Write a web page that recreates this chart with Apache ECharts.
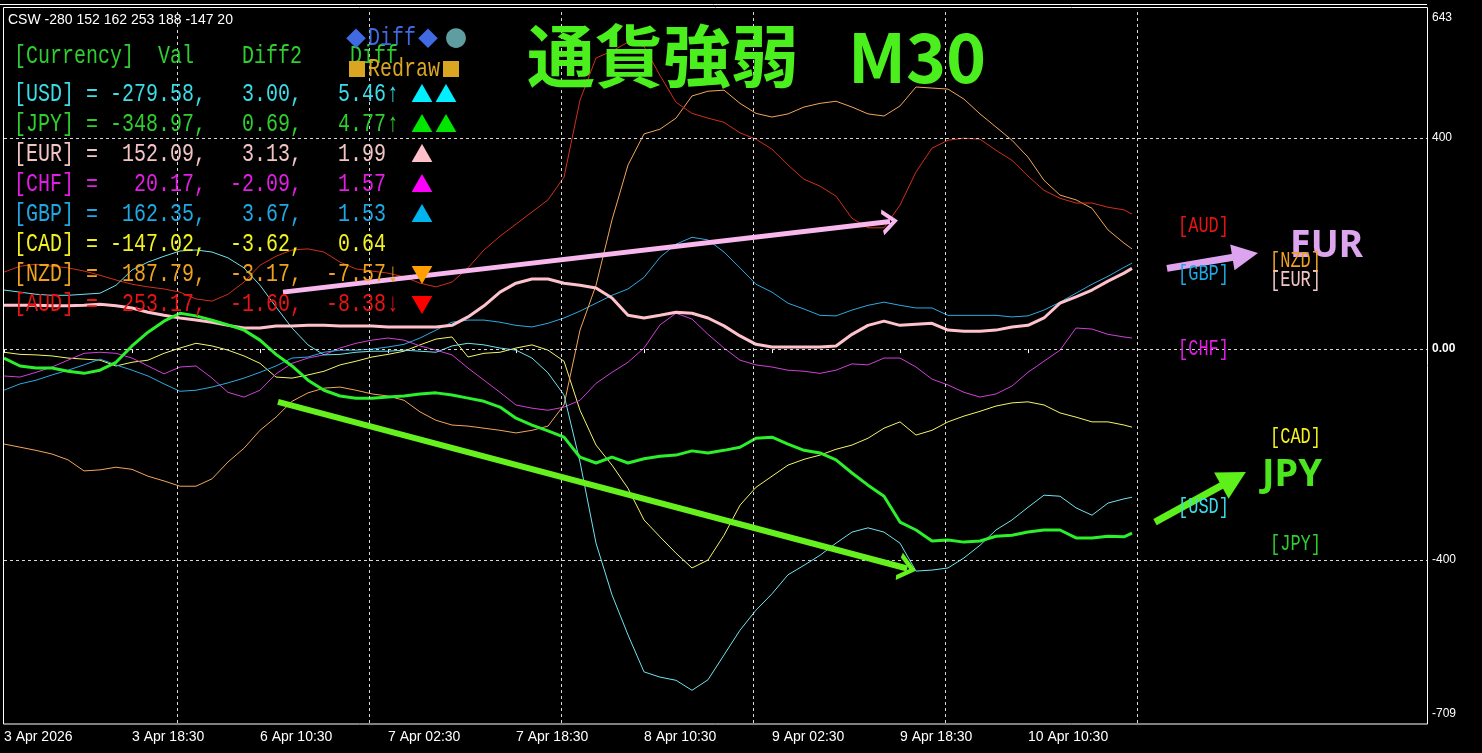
<!DOCTYPE html>
<html><head><meta charset="utf-8">
<script src="https://cdn.jsdelivr.net/npm/echarts@6/dist/echarts.min.js"></script>
<style>html,body{margin:0;padding:0;background:#000;}#c{width:1482px;height:753px;}</style>
</head><body><div id="c"></div>
<script>
// ---------- data ----------
const xLabels = ['3 Apr 2026','3 Apr 18:30','6 Apr 10:30','7 Apr 02:30','7 Apr 18:30','8 Apr 10:30','9 Apr 02:30','9 Apr 18:30','10 Apr 10:30'];
const barsPerLabel = 32;           // M30 bars between time labels
const sampleStep = 4;              // bars between samples
const lastBar = 282;
const yTickValues = [643, 400, 0, -400, -709];
const yTickLabels = ['643', '400', '0.00', '-400', '-709'];

const USD = [112,108,104,102,102,104,106,121,150,165,176,186,188,184,173,154,121,80,40,8,-11,-10,-6,-4,-4,-2,-4,-6,6,11,8,2,-2,-17,-45,-87,-214,-368,-466,-542,-612,-622,-628,-647,-627,-580,-533,-495,-464,-428,-410,-391,-368,-347,-339,-347,-368,-421,-419,-415,-396,-372,-343,-324,-300,-277,-279,-301,-315,-292,-284,-281];
const JPY = [-17,-32,-36,-36,-42,-46,-40,-25,6,32,53,68,63,55,46,36,17,-10,-32,-59,-78,-89,-93,-93,-91,-89,-85,-83,-87,-93,-99,-110,-131,-144,-155,-167,-205,-216,-205,-216,-208,-203,-201,-193,-197,-192,-186,-169,-167,-180,-192,-197,-210,-235,-258,-279,-328,-343,-364,-362,-366,-364,-355,-353,-347,-343,-343,-358,-358,-355,-356,-349];
const EUR = [83,83,83,82,82,83,85,82,78,70,64,59,55,51,45,40,40,44,44,45,45,44,44,44,42,42,42,42,45,61,82,108,125,133,133,125,121,116,97,64,59,64,70,68,59,44,25,9,4,4,4,4,6,28,45,53,45,47,49,36,34,34,36,42,45,59,87,99,112,129,144,153];
const CHF = [-51,-53,-44,-34,-21,-8,-6,-8,-17,-32,-47,-34,-32,-55,-82,-91,-78,-47,-27,-17,-11,2,11,17,21,17,6,-2,-11,-36,-59,-82,-106,-112,-116,-110,-97,-65,-44,-25,2,46,68,57,28,2,-21,-30,-34,-40,-42,-46,-40,-28,-30,-17,-17,-34,-57,-68,-82,-91,-85,-70,-44,-23,-2,40,38,28,23,21];
const GBP = [-78,-66,-59,-49,-40,-30,-19,-30,-40,-51,-66,-80,-78,-72,-64,-55,-44,-32,-17,-15,-6,-2,-2,0,4,9,21,36,51,55,55,51,45,42,49,59,72,87,102,114,136,174,199,212,207,184,154,123,108,87,76,64,63,74,83,89,83,78,78,64,64,64,64,61,63,74,89,106,123,138,155,163];
const CAD = [-6,-10,-11,-13,-17,-19,-21,-32,-25,-21,-8,2,11,6,-2,-13,-27,-53,-55,-49,-42,-30,-23,-15,-10,-4,8,19,23,-15,-8,-6,2,8,-2,-23,-116,-182,-220,-264,-324,-356,-387,-415,-400,-353,-296,-262,-241,-220,-209,-201,-190,-182,-169,-150,-138,-163,-154,-138,-127,-118,-108,-102,-100,-106,-121,-129,-138,-138,-144,-148];
const NZD = [-180,-186,-192,-199,-210,-231,-229,-224,-228,-241,-250,-260,-260,-246,-214,-188,-154,-129,-99,-83,-74,-72,-78,-85,-89,-97,-119,-135,-144,-146,-150,-154,-159,-154,-146,-106,36,121,245,349,408,417,438,480,489,491,466,447,440,446,459,466,470,459,446,442,461,497,495,493,474,446,421,396,364,320,292,283,267,226,201,190];
const AUD = [146,157,161,157,154,148,140,131,123,118,114,108,95,91,104,127,159,176,188,190,184,165,152,148,144,137,125,118,127,154,188,214,237,260,283,326,472,552,565,582,574,519,468,447,438,430,410,398,379,349,322,309,290,248,230,230,273,336,381,396,400,398,377,358,328,301,286,277,277,269,264,256];

// table (sorted by Diff)
const rowCur   = ['USD','JPY','EUR','CHF','GBP','CAD','NZD','AUD'];
const rowVal   = [-279.58,-348.97,152.09,20.17,162.35,-147.02,187.79,253.17];
const rowDiff2 = [3.00,0.69,3.13,-2.09,3.67,-3.62,-3.17,-1.60];
const rowDiff  = [5.46,4.77,1.99,1.57,1.53,0.64,-7.57,-8.38];
const rowArrow = ['↑','↑','','','','','↓','↓'];
const rowMarks = ['▲▲','▲▲','▲','▲','▲','','▼','▼'];
const cswText = 'CSW -280 152 162 253 188 -147 20';

// right-side currency tags
const tagLeft  = ['AUD','GBP','CHF','USD'];
const tagRight = ['NZD','EUR','CAD','JPY'];
const tagColBar = {left: 293.5, right: 316.5};

// annotation arrows (data coordinates: [bar, value])
const arrowLongPink  = [[69.75,108],[221.5,242]];
const arrowLongGreen = [[68.5,-100],[225.8,-416]];
const arrowShortPink = [[290.75,153],[310.3,178]];
const arrowShortGreen= [[287.75,-328],[307.4,-246]];

const vGridBars = [43.25,91.25,139.25,187.25,235.25,283.25];
const hGridVals = [400,0,-400];

// ---------- styles ----------
const lineColor = {USD:'#6FE3EF',JPY:'#2BF02B',EUR:'#FFC2CC',CHF:'#D040D8',GBP:'#2DA9E1',CAD:'#F5F56A',NZD:'#F2A65A',AUD:'#D0301A'};
const textColor = {USD:'#3CDCE8',JPY:'#2ECF2E',EUR:'#F2C4C4',CHF:'#E21EE2',GBP:'#1FA8E4',CAD:'#F2F21E',NZD:'#F0A21E',AUD:'#E81414'};
const markColor = {USD:'#00F0FF',JPY:'#00E600',EUR:'#FFC0CB',CHF:'#FF00FF',GBP:'#00B4F0',CAD:'#FFFF00',NZD:'#FFA000',AUD:'#FF0000'};
const seriesData = {USD,JPY,EUR,CHF,GBP,CAD,NZD,AUD};
const drawOrder = ['CAD','CHF','GBP','NZD','AUD','USD','EUR','JPY'];

const barIdx = USD.map((_, i) => Math.min(i * sampleStep, lastBar));
const tickBars = xLabels.map((_, i) => i * barsPerLabel);
const valueOf = {};
rowCur.forEach((c, i) => valueOf[c] = rowVal[i]);

const chevron = 'path://M0,20 L10,0 L20,20 L16.5,21 L10,8 L3.5,21 Z';

const series = drawOrder.map(cur => ({
  type: 'line', name: cur, showSymbol: false, symbol: 'none', smooth: false,
  animation: false, silent: true,
  lineStyle: {color: lineColor[cur], width: (cur === 'EUR' || cur === 'JPY') ? 3 : 1},
  data: seriesData[cur].map((v, i) => [barIdx[i], v])
}));

series[0].markLine = {
  silent: true, symbol: 'none', animation: false, label: {show: false},
  lineStyle: {color: '#d8d8d8', type: [3, 3], width: 1},
  data: vGridBars.map(x => ({xAxis: x})).concat(hGridVals.map(y => ({yAxis: y})))
};

function arrowPair(pts, color, width, sym, size) {
  return [
    {coord: pts[0], symbol: 'none', lineStyle: {color, width, type: 'solid'}},
    {coord: pts[1], symbol: sym, symbolSize: size, itemStyle: {color}}
  ];
}
series[series.length - 1].markLine = {
  silent: true, animation: false, label: {show: false},
  data: [
    arrowPair(arrowLongPink, '#F8B8EE', 5, chevron, [26, 16]),
    arrowPair(arrowLongGreen, '#66F01E', 6, chevron, [28, 18]),
    arrowPair(arrowShortPink, '#DDA3EE', 7, 'triangle', [26, 26]),
    arrowPair(arrowShortGreen, '#5EF01A', 7, 'triangle', [30, 28])
  ]
};

// ---------- text graphics ----------
const MONO = '20px "Liberation Mono","DejaVu Sans Mono",monospace';
const MONO_S = '17px "Liberation Mono","DejaVu Sans Mono",monospace';
const CJK = '"Noto Sans CJK JP"';
function T(x, y, text, fill, font, align, sy) {
  return {type: 'text', x, y, scaleY: sy || 1, z: 100, silent: true,
    style: {text, fill, font, textAlign: align || 'left', textVerticalAlign: 'middle'}};
}
const SY = 1.3;
const g = [];
g.push({type: 'rect', silent: true, z: 50, shape: {x: 3.5, y: 7.5, width: 1424, height: 716.5}, style: {fill: 'none', stroke: '#fff', lineWidth: 1}});
g.push({type: 'line', silent: true, z: 50, shape: {x1: 0, y1: 4.5, x2: 1427, y2: 4.5}, style: {stroke: '#fff', lineWidth: 1}});
g.push(T(8, 20.5, cswText, '#ffffff', '14px "Liberation Sans",Arial,sans-serif'));
const hdr = '#2ECF2E';
g.push(T(14, 56, '[Currency]', hdr, MONO, 'left', SY));
g.push(T(158, 56, 'Val', hdr, MONO, 'left', SY));
g.push(T(242, 56, 'Diff2', hdr, MONO, 'left', SY));
g.push(T(350, 56, 'Diff', hdr, MONO, 'left', SY));
g.push(T(356, 38, '◆', '#4169E1', '20px ' + CJK, 'center'));
g.push(T(368, 38, 'Diff', '#4169E1', MONO, 'left', SY));
g.push(T(428, 38, '◆', '#4169E1', '20px ' + CJK, 'center'));
g.push(T(456, 38, '●', '#5F9EA0', '22px ' + CJK, 'center'));
g.push(T(357, 69, '■', '#DAA520', '20px ' + CJK, 'center'));
g.push(T(368, 69, 'Redraw', '#DAA520', MONO, 'left', SY));
g.push(T(451, 69, '■', '#DAA520', '20px ' + CJK, 'center'));
rowCur.forEach((c, i) => {
  const y = 94 + i * 30, col = textColor[c];
  g.push(T(14, y, '[' + c + ']', col, MONO, 'left', SY));
  g.push(T(86, y, '=', col, MONO, 'left', SY));
  g.push(T(206, y, rowVal[i].toFixed(2) + ',', col, MONO, 'right', SY));
  g.push(T(302, y, rowDiff2[i].toFixed(2) + ',', col, MONO, 'right', SY));
  g.push(T(386, y, rowDiff[i].toFixed(2), col, MONO, 'right', SY));
  if (rowArrow[i]) g.push(T(387, y, rowArrow[i], col, MONO, 'left', SY));
  [...rowMarks[i]].forEach((m, j) => g.push(T(422 + j * 24, y, m, markColor[c], '22px ' + CJK, 'center')));
});
g.push(T(527, 56, '通貨強弱', '#4CEF1E', 'bold 68px ' + CJK));
g.push(T(848, 57, 'M30', '#4CEF1E', 'bold 68px ' + CJK));
g.push(T(1290, 246, 'EUR', '#DDA5EE', 'bold 37px "Noto Sans",sans-serif'));
g.push(T(1262, 475, 'JPY', '#4BE61E', 'bold 38px "Noto Sans",sans-serif'));

const chart = echarts.init(document.getElementById('c'), null, {renderer: 'canvas'});
const baseOption = {
  backgroundColor: '#000',
  animation: false,
  grid: {left: 4, right: 55, top: 10, bottom: 30, show: false},
  xAxis: {
    type: 'value', min: 0, max: 355.75,
    axisLine: {show: false},
    axisTick: {show: true, customValues: tickBars, length: 4, lineStyle: {color: '#fff'}},
    axisLabel: {customValues: tickBars, color: '#fff', fontFamily: '"Liberation Sans",Arial,sans-serif', fontSize: 14,
      align: 'left', margin: 7, formatter: v => xLabels[Math.round(v / barsPerLabel)] || ''},
    splitLine: {show: false}
  },
  yAxis: {
    type: 'value', position: 'right', min: -709, max: 643,
    axisLine: {show: false}, axisTick: {show: false}, splitLine: {show: false},
    axisLabel: {customValues: yTickValues, color: '#fff', fontFamily: '"Liberation Sans",Arial,sans-serif', fontSize: 12, margin: 5,
      formatter: v => {
        const i = yTickValues.indexOf(v);
        const s = i >= 0 ? yTickLabels[i] : '';
        if (v === yTickValues[0]) return '{t|' + s + '}';
        if (v === yTickValues[yTickValues.length - 1]) return '{b|' + s + '}';
        if (v === 0) return '{z|' + s + '}';
        return s;
      },
      rich: {
        t: {padding: [16, 0, 0, 0], color: '#fff', fontSize: 12, fontFamily: '"Liberation Sans",Arial,sans-serif'},
        b: {padding: [0, 0, 18, 0], color: '#fff', fontSize: 12, fontFamily: '"Liberation Sans",Arial,sans-serif'},
        z: {fontWeight: 'bold', color: '#fff', fontSize: 12, fontFamily: '"Liberation Sans",Arial,sans-serif'}
      }
    }
  },
  series
};
chart.setOption(baseOption);

// right-side tags placed at each currency's latest value through the chart's own scales
function tagGraphic(c, side) {
  const p = chart.convertToPixel({gridIndex: 0}, [tagColBar[side], valueOf[c]]);
  return T(p[0], p[1] + 11, '[' + c + ']', textColor[c], MONO_S, 'left', SY);
}
tagLeft.forEach(c => g.push(tagGraphic(c, 'left')));
tagRight.forEach(c => g.push(tagGraphic(c, 'right')));
chart.setOption({graphic: {elements: g}});
</script></body></html>
